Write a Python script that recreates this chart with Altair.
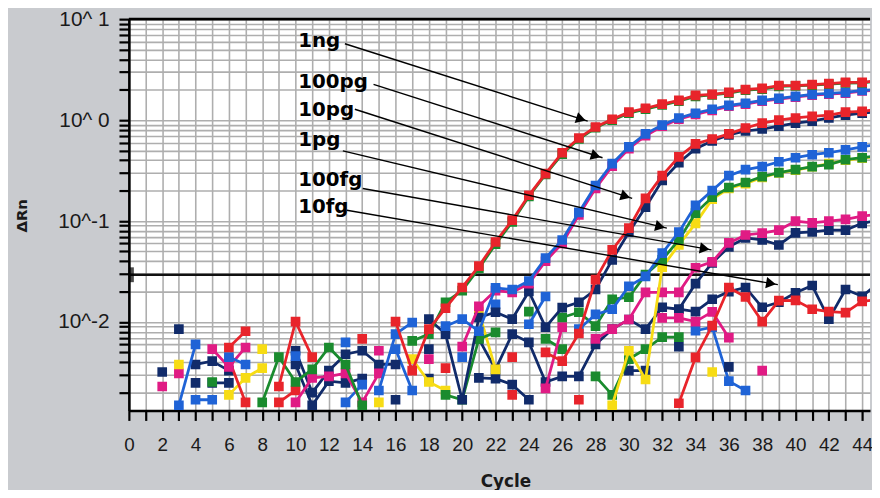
import altair as alt
import pandas as pd

# ---------------- data ----------------
x_tick_values = list(range(0, 45))
y_tick_values = [0.002, 0.003, 0.004, 0.005, 0.006, 0.007, 0.008, 0.009,
                 0.01, 0.02, 0.03, 0.04, 0.05, 0.06, 0.07, 0.08, 0.09,
                 0.1, 0.2, 0.3, 0.4, 0.5, 0.6, 0.7, 0.8, 0.9,
                 1, 2, 3, 4, 5, 6, 7, 8, 9, 10]
y_domain = [0.00133, 10]
x_domain = [0, 44.47]
threshold = 0.0294

N = None
# (name, colour, first cycle, values per cycle; None = no point)
ser_K = ("K", "#112b6a", 3, [0.0085, N, 0.0025, 0.0025, N, N, N, 0.0038, 0.0015, 0.0026, 0.0025, 0.00275, N, 0.0017, N,
                             0.0054, N, N, 0.0068, 0.0034, 0.0076, 0.0063, 0.00255, 0.0029, 0.0029, 0.0060, 0.0085,
                             0.0106, 0.0085, 0.0140, 0.0134, 0.024, 0.0385, 0.0555, 0.068, 0.065, 0.058, 0.0764,
                             0.078, 0.0814, 0.0814, 0.095, 0.102])
ser_L = ("L", "#112b6a", 4, [0.0025, N, N, N, N, N, N, N, N, N, N, N, N, N, 0.00275, N, N, 0.0028, 0.00275, 0.0024,
                             0.0017, N, N, N, N, N, N, N, N, 0.0134, 0.0127, 0.0168, 0.020, 0.022, 0.014, 0.0157,
                             0.0195, 0.023, 0.0107, 0.021, 0.018, 0.0245])
ser_P = ("P", "#112b6a", 30, [0.0033, 0.0033, N, 0.0057])
ser_N = ("N", "#1f63d6", 34, [0.0082, 0.0089, 0.0026, 0.0021])
ser_O = ("O", "#e01b84", 32, [0.011, 0.011, 0.0101, 0.0126, 0.0070])
ser_Q = ("Q", "#1a8b2e", 25, [0.0068, 0.0054, N, 0.0029, 0.0019, 0.0043, 0.0054, 0.0071, 0.0071])
ser_J = ("J", "#e01b84", 3, [0.0031, N, N, N, N, N, N, N, N, N, N, N, 0.0052, N, N, N, N, N, N, N, N, N, 0.0022,
                             0.0089, N, 0.0068, 0.0085, 0.0106, 0.0197, 0.0197, 0.0197, 0.0345, 0.0395, 0.0608,
                             0.0728, 0.076, 0.0814, 0.100, 0.096, 0.100, 0.104, 0.112, 0.117])
ser_M = ("M", "#e8242b", 23, [0.0019, N, N, N, 0.0017, N, N, N, N, N, 0.00157, 0.00446, 0.0092, 0.022, 0.0177,
                              0.0101, 0.0163, 0.0164, 0.0134, 0.0127, 0.0124, 0.016, 0.0168])
ser_I = ("I", "#f7dc14", 3, [0.0038, N, N, 0.0019, 0.0028, 0.0035, N, N, N, N, N, N, 0.0016, N, 0.0043, 0.00255,
                             0.0021, N, 0.0127, 0.0034, N, N, N, N, N, N, 0.0015, 0.0052, 0.0027, 0.035, 0.058,
                             0.095, 0.165, 0.21, 0.235, 0.27, 0.30, 0.32, 0.345, 0.37, 0.40, 0.42, 0.44])
ser_H = ("H", "#1a8b2e", 19, [0.0019, 0.0017, 0.0068, 0.0079, N, 0.0127, N, 0.0111, 0.0125, 0.0091, 0.0168, 0.0176,
                              0.0295, 0.0413, 0.065, 0.12, 0.172, 0.215, 0.241, 0.276, 0.302, 0.323, 0.346, 0.362,
                              0.405, 0.424, 0.443])
ser_G = ("G", "#1f63d6", 4, [0.0017, 0.0017, N, N, N, N, N, N, N, 0.0016, 0.0024, N, 0.0054, 0.0021, N, N, 0.0045,
                             N, 0.0150, N, 0.0095, 0.0179, N, 0.0085, 0.0119, 0.0134, 0.0226, 0.0283, 0.0482,
                             0.0776, 0.143, 0.201, 0.282, 0.323, 0.346, 0.387, 0.424, 0.454, 0.475, 0.508, 0.543,
                             0.58])
ser_F = ("F", "#112b6a", 2, [0.0032, N, 0.0038, 0.0041, 0.0033, N, N, N, 0.0052, 0.0020, 0.0033, 0.0048, 0.0052,
                             0.0038, 0.0038, N, 0.0107, 0.0076, 0.0017, 0.0111, 0.0125, 0.0107, 0.0201, 0.0089,
                             0.0139, 0.0157, 0.021, 0.0413, 0.0776, 0.137, 0.252, 0.378, 0.52, 0.622, 0.713, 0.78,
                             0.816, 0.873, 0.935, 0.978, 1.05, 1.12, 1.17, 1.22])
ser_E = ("E", "#e8242b", 6, [0.0043, 0.0016, N, 0.0016, 0.0021, N, N, N, N, N, N, N, N, 0.0035, N, N, N, 0.0045, N,
                             0.0050, 0.0041, 0.0077, 0.0263, 0.0518, 0.085, 0.168, 0.282, 0.433, 0.582, 0.65, 0.73,
                             0.835, 0.935, 1.0, 1.05, 1.09, 1.12, 1.20, 1.22, 1.28])
ser_D = ("D", "#e01b84", 2, [0.0023, N, N, 0.0054, 0.0036, 0.0056, N, N, 0.0016, 0.0028, 0.0029, 0.0031, 0.0016,
                             0.0031, N, N, 0.0043, N, 0.0057, 0.0143, 0.0205, 0.0197, 0.024, 0.040, 0.060, 0.115,
                             0.21, 0.35, 0.52, 0.70, 0.87, 1.02, 1.14, 1.25, 1.37, 1.44, 1.54, 1.61, 1.69, 1.77,
                             1.81, 1.85, 1.94, 1.98])
ser_C = ("C", "#1f63d6", 3, [0.0015, 0.0060, N, 0.0045, 0.0038, N, N, 0.0046, N, N, 0.0063, N, 0.0021, 0.0076,
                             0.0099, N, 0.0091, 0.0107, 0.0081, 0.0218, 0.021, 0.0255, 0.043, 0.065, 0.122, 0.225,
                             0.37, 0.543, 0.73, 0.893, 1.05, 1.17, 1.28, 1.40, 1.47, 1.57, 1.64, 1.72, 1.80, 1.84,
                             1.88, 1.97, 2.01])
ser_B = ("B", "#1a8b2e", 5, [0.00255, N, N, 0.0016, 0.0045, 0.00255, 0.0034, 0.0056, 0.0038, 0.0015, N, N, 0.0065,
                             0.0076, 0.0157, 0.0205, 0.034, 0.059, 0.098, 0.175, 0.29, 0.46, 0.65, 0.84, 1.0, 1.17,
                             1.28, 1.41, 1.54, 1.72, 1.78, 1.85, 1.98, 2.03, 2.16, 2.18, 2.22, 2.27, 2.33, 2.34, 2.44])
ser_A = ("A", "#e8242b", 6, [0.0056, 0.0081, N, 0.0023, 0.0101, 0.0045, N, N, 0.0068, N, 0.0101, 0.0033, 0.0085,
                             0.0137, 0.022, 0.0358, 0.062, 0.102, 0.180, 0.295, 0.475, 0.665, 0.855, 1.02, 1.20,
                             1.31, 1.44, 1.57, 1.76, 1.80, 1.88, 2.01, 2.06, 2.20, 2.20, 2.25, 2.30, 2.36, 2.36, 2.47])

draw_order = [ser_K, ser_L, ser_P, ser_N, ser_O, ser_Q, ser_J, ser_M, ser_I, ser_H,
              ser_G, ser_F, ser_E, ser_D, ser_C, ser_B, ser_A]

iso_cycles = [8, 35, 38, 36]
iso_values = [0.0054, 0.0032, 0.0033, 0.0036]
iso_colors = ["#f7dc14", "#f7dc14", "#e01b84", "#112b6a"]

label_texts = ["1ng", "100pg", "10pg", "1pg", "100fg", "10fg"]
label_cycle = [10.16, 10.16, 10.16, 10.16, 10.16, 10.16]
label_value = [5.32, 2.06, 1.09, 0.556, 0.225, 0.1196]

arrow_x1 = [12.96, 14.68, 13.56, 12.84, 14.03, 13.08]
arrow_y1 = [5.70, 2.26, 1.28, 0.496, 0.210, 0.128]
arrow_x2 = [27.53, 28.42, 30.20, 32.28, 34.96, 38.94]
arrow_y2 = [0.978, 0.424, 0.168, 0.0851, 0.0518, 0.0235]
head_x = [27.13, 28.02, 29.80, 31.88, 34.55, 38.53]
head_y = [1.025, 0.443, 0.176, 0.0883, 0.0532, 0.0241]
head_angle = [17.7, 16.8, 17.8, 13.5, 10.0, 9.5]

# ---------------- chart ----------------
FONT = "Liberation Sans"
xs = alt.Scale(domain=x_domain, nice=False, zero=False)
ys = alt.Scale(type="log", domain=y_domain, nice=False)

x_axis = alt.Axis(values=x_tick_values,
                  labelExpr="datum.value % 2 == 0 ? datum.value : ''",
                  grid=True, gridColor="#aeaeae", gridWidth=1.6,
                  tickSize=10, tickWidth=2.2, tickColor="black",
                  domainColor="black", domainWidth=2.6,
                  labelFont=FONT, labelFontSize=19, labelColor="#1a1a1a",
                  labelPadding=15, labelFlush=False, labelOverlap=False,
                  title="Cycle", titleFont="DejaVu Sans", titleFontSize=17,
                  titleFontWeight="bold", titleColor="#1a1a1a",
                  titleX=380, titleY=72, titleBaseline="middle", titleAlign="center")
y_axis = alt.Axis(values=y_tick_values,
                  labelExpr="datum.value == 10 ? '10^ 1' : datum.value == 1 ? '10^ 0' : "
                            "abs(datum.value - 0.1) < 1e-9 ? '10^-1' : "
                            "abs(datum.value - 0.01) < 1e-9 ? '10^-2' : ''",
                  grid=True, gridColor="#aeaeae", gridWidth=1.6,
                  tickSize=10, tickWidth=2.2, tickColor="black",
                  domainColor="black", domainWidth=2.6,
                  labelFont=FONT, labelFontSize=21, labelColor="#1a1a1a",
                  labelPadding=10, labelFlush=False, labelOverlap=False,
                  title="ΔRn", titleFont="DejaVu Sans", titleFontSize=15,
                  titleFontWeight="bold", titleColor="#1a1a1a",
                  titleX=-108, titleY=198, titleAngle=270,
                  titleAlign="center", titleBaseline="middle")


def X(field):
    return alt.X(field, scale=xs, axis=x_axis)


def Y(field):
    return alt.Y(field, scale=ys, axis=y_axis)


carrier = alt.Chart(pd.DataFrame({"cycle": x_domain, "value": y_domain})).mark_point(opacity=0).encode(
    x=X("cycle:Q"), y=Y("value:Q"))

top_rule = alt.Chart(pd.DataFrame({"value": [y_domain[1]]})).mark_rule(
    color="black", strokeWidth=2.6).encode(y=Y("value:Q"))

thr = alt.Chart(pd.DataFrame({"value": [threshold]})).mark_rule(
    color="#111111", strokeWidth=2.4).encode(y=Y("value:Q"))
thr_mark = alt.Chart(pd.DataFrame({"cycle": [0.15], "value": [threshold]})).mark_tick(
    orient="vertical", thickness=5, size=15, color="black").encode(x=X("cycle:Q"), y=Y("value:Q"))

layers = [carrier, top_rule, thr, thr_mark]
for name, color, start, vals in draw_order:
    rows = []
    seg = 0
    for i, v in enumerate(vals):
        if v is None:
            seg += 1
            continue
        rows.append({"cycle": start + i, "value": v, "seg": f"{name}{seg}"})
    df = pd.DataFrame(rows)
    base = alt.Chart(df)
    layers.append(base.mark_line(color=color, strokeWidth=2.8, clip=True).encode(
        x=X("cycle:Q"), y=Y("value:Q"), detail="seg:N"))
    layers.append(base.mark_point(shape="square", filled=True, size=95, color=color,
                                  opacity=1, clip=True).encode(x=X("cycle:Q"), y=Y("value:Q")))

iso_df = pd.DataFrame({"cycle": iso_cycles, "value": iso_values, "col": iso_colors})
layers.append(alt.Chart(iso_df).mark_point(shape="square", filled=True, size=95, opacity=1, clip=True).encode(
    x=X("cycle:Q"), y=Y("value:Q"), color=alt.Color("col:N", scale=None)))

lab_df = pd.DataFrame({"cycle": label_cycle, "value": label_value, "t": label_texts})
layers.append(alt.Chart(lab_df).mark_text(align="left", baseline="alphabetic", font="DejaVu Sans",
                                          fontWeight="bold", fontSize=20, color="black").encode(
    x=X("cycle:Q"), y=Y("value:Q"), text="t:N"))

arr_df = pd.DataFrame({"cycle": arrow_x1, "value": arrow_y1, "x2": arrow_x2, "y2": arrow_y2})
layers.append(alt.Chart(arr_df).mark_rule(color="black", strokeWidth=1.4).encode(
    x=X("cycle:Q"), y=Y("value:Q"), x2="x2:Q", y2="y2:Q"))

head_df = pd.DataFrame({"cycle": head_x, "value": head_y, "ang": head_angle})
layers.append(alt.Chart(head_df).mark_point(shape="triangle-right", filled=True, size=130,
                                            color="black", opacity=1).encode(
    x=X("cycle:Q"), y=Y("value:Q"), angle=alt.Angle("ang:Q", scale=None)))

chart = alt.layer(*layers).properties(
    width=748, height=395,
    padding={"left": 122, "top": 9, "right": 2, "bottom": 78},
    autosize=alt.AutoSizeParams(type="none"),
    background="#c9cbcf",
).configure_view(fill="white", strokeWidth=0)

chart.save("out.html", embed_options={"renderer": "svg", "actions": False})
